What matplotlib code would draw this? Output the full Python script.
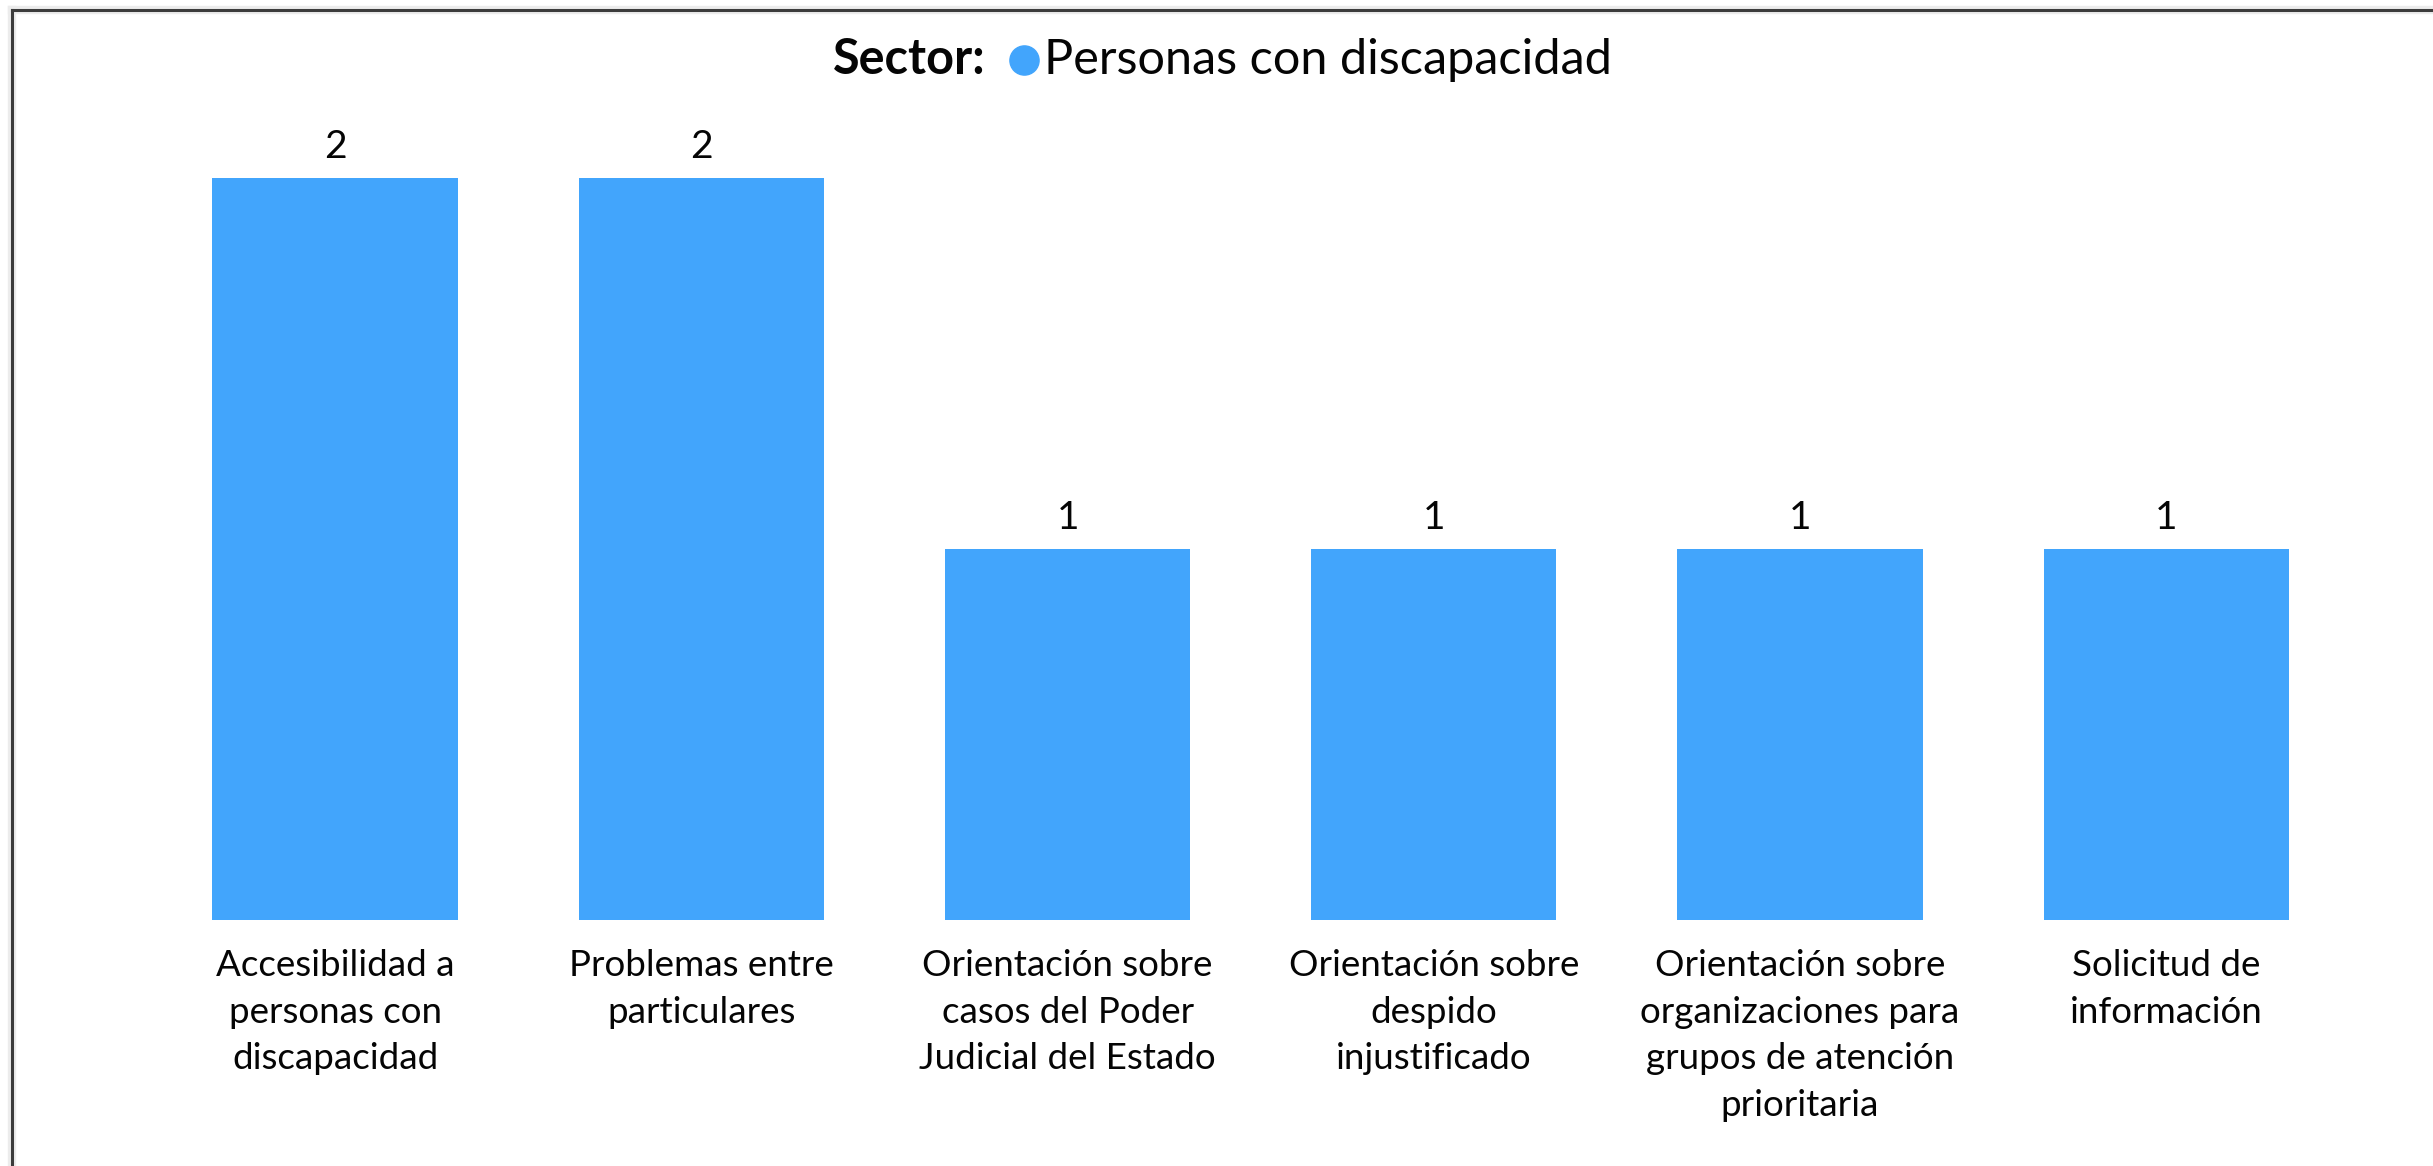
import matplotlib
matplotlib.use('Agg')
import matplotlib.pyplot as plt
from matplotlib.lines import Line2D

plt.rcParams['font.family'] = ['Lato', 'DejaVu Sans']

# datos
categorias = ['Accesibilidad a\npersonas con\ndiscapacidad',
              'Problemas entre\nparticulares',
              'Orientación sobre\ncasos del Poder\nJudicial del Estado',
              'Orientación sobre\ndespido\ninjustificado',
              'Orientación sobre\norganizaciones para\ngrupos de atención\nprioritaria',
              'Solicitud de\ninformación']
valores = [2, 2, 1, 1, 1, 1]
serie = 'Personas con discapacidad'
azul = '#42a5fc'
texto = '#050505'

W, H = 2433, 1166
fig = plt.figure(figsize=(W / 100, H / 100), dpi=100)
ax = fig.add_axes([0.0625, 0.211, 0.9031, 0.636])

x = range(len(valores))
barras = ax.bar(x, valores, width=0.67, color=azul)
ax.set_xlim(-0.5, len(valores) - 0.5)
ax.set_ylim(0, 2)
for b, v in zip(barras, valores):
    ax.text(b.get_x() + b.get_width() / 2, v + 0.035, str(v), ha='center', va='bottom',
            fontsize=28, color=texto, clip_on=False)

ax.set_xticks(list(x))
ax.set_xticklabels(categorias, fontsize=26.5, linespacing=1.5, color=texto)
ax.tick_params(axis='x', length=0, pad=21)
ax.set_yticks([])
for s in ax.spines.values():
    s.set_visible(False)

# título: "Sector:" + punto de la serie + nombre
fig.canvas.draw()
r = fig.canvas.get_renderer()
ty = 1 - 60 / H
t1 = fig.text(0, ty, 'Sector:', fontsize=35, fontweight='bold', va='center', color=texto)
t2 = fig.text(0, ty, serie, fontsize=35, va='center', color=texto)
w1 = t1.get_window_extent(r).width
w2 = t2.get_window_extent(r).width
gap1, dot, gap2 = 24, 28, 6
total = w1 + gap1 + dot + gap2 + w2
x0 = W * 0.5025 - total / 2
t1.set_x(x0 / W)
fig.add_artist(Line2D([(x0 + w1 + gap1 + dot / 2) / W], [ty], marker='o', markersize=21,
                      color=azul, linestyle='none', transform=fig.transFigure))
t2.set_x((x0 + w1 + gap1 + dot + gap2) / W)

# marco del gráfico
fig.add_artist(Line2D([12 / W, 1], [1 - 10 / H, 1 - 10 / H], color='#ececec', lw=6,
                      transform=fig.transFigure))
fig.add_artist(Line2D([12 / W, 12 / W], [0, 1 - 10 / H], color='#ececec', lw=6,
                      transform=fig.transFigure))
fig.add_artist(Line2D([12 / W, 1], [1 - 10 / H, 1 - 10 / H], color='#3c3c3c', lw=2.2,
                      transform=fig.transFigure))
fig.add_artist(Line2D([12 / W, 12 / W], [0, 1 - 10 / H], color='#3c3c3c', lw=2.2,
                      transform=fig.transFigure))

fig.savefig('out.png', dpi=100, facecolor='white')
